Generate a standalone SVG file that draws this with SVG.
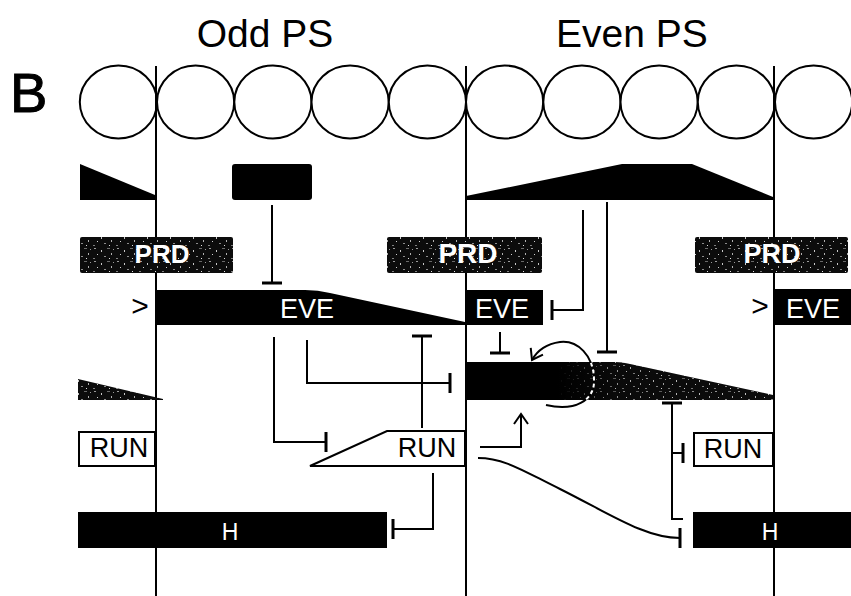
<svg xmlns="http://www.w3.org/2000/svg" width="851" height="596" viewBox="0 0 851 596">
<style>
  .ln{stroke:#000;stroke-width:2;fill:none}
  .inh{stroke:#000;stroke-width:2;fill:none;marker-end:url(#tee)}
  .circ{fill:#fff;stroke:#000;stroke-width:2}
  .wt{font-family:"Liberation Sans",Arial,sans-serif;fill:#fff;text-anchor:middle}
  .bt{font-family:"Liberation Sans",Arial,sans-serif;fill:#000;text-anchor:middle}
  .box{fill:#fff;stroke:#000;stroke-width:2}
</style>
<defs>
  <pattern id="speck" width="23" height="13" patternUnits="userSpaceOnUse">
    <rect width="23" height="13" fill="#0c0c0c"/>
    <rect x="2" y="1" width="2" height="1" fill="#9a9a9a"/>
    <rect x="9" y="3" width="1" height="2" fill="#c8c8c8"/>
    <rect x="15" y="1" width="3" height="1" fill="#6a6a6a"/>
    <rect x="5" y="7" width="1" height="1" fill="#d0d0d0"/>
    <rect x="12" y="9" width="2" height="1" fill="#8c8c8c"/>
    <rect x="19" y="6" width="1" height="2" fill="#b0b0b0"/>
    <rect x="1" y="11" width="2" height="1" fill="#808080"/>
    <rect x="17" y="11" width="1" height="1" fill="#e0e0e0"/>
    <rect x="21" y="2" width="1" height="1" fill="#999"/>
  </pattern>
  <linearGradient id="fadeBlack" gradientUnits="userSpaceOnUse" x1="465" y1="0" x2="773" y2="0">
    <stop offset="0" stop-color="#000" stop-opacity="1"/>
    <stop offset="0.3" stop-color="#000" stop-opacity="1"/>
    <stop offset="0.5" stop-color="#000" stop-opacity="0.15"/>
    <stop offset="1" stop-color="#000" stop-opacity="0"/>
  </linearGradient>
  <clipPath id="barClip">
    <path d="M465,362 H615 Q622,362 630,364 L773,395 V400 H465 Z"/>
  </clipPath>
  <marker id="tee" viewBox="-2 -11 4 22" markerWidth="4" markerHeight="22" refX="0" refY="0" orient="auto" markerUnits="userSpaceOnUse">
    <path d="M0,-10 L0,10" stroke="#000" stroke-width="3"/>
  </marker>
  <marker id="arr" viewBox="-12 -8 14 16" markerWidth="14" markerHeight="16" refX="0" refY="0" orient="auto" markerUnits="userSpaceOnUse">
    <path d="M-10,-7 L0,0 L-10,7" stroke="#000" stroke-width="2" fill="none"/>
  </marker>
</defs>

<rect width="851" height="596" fill="#fff"/>

<g id="labels">
  <text x="10" y="112" font-family="Liberation Sans, Arial, sans-serif" font-size="56" stroke="#000" stroke-width="1">B</text>
  <text class="bt" x="265" y="47" font-size="39">Odd PS</text>
  <text class="bt" x="632" y="47" font-size="39">Even PS</text>
</g>

<g id="segments">
  <line class="ln" x1="156" y1="66" x2="156" y2="596"/>
  <line class="ln" x1="466" y1="66" x2="466" y2="596"/>
  <line class="ln" x1="774" y1="66" x2="774" y2="596"/>
</g>

<g id="cells">
  <ellipse class="circ" cx="118.4" cy="102" rx="38.6" ry="36.5"/>
  <ellipse class="circ" cx="195.6" cy="102" rx="38.6" ry="36.5"/>
  <ellipse class="circ" cx="272.9" cy="102" rx="38.6" ry="36.5"/>
  <ellipse class="circ" cx="350.1" cy="102" rx="38.6" ry="36.5"/>
  <ellipse class="circ" cx="427.4" cy="102" rx="38.6" ry="36.5"/>
  <ellipse class="circ" cx="504.6" cy="102" rx="38.6" ry="36.5"/>
  <ellipse class="circ" cx="581.9" cy="102" rx="38.6" ry="36.5"/>
  <ellipse class="circ" cx="659.1" cy="102" rx="38.6" ry="36.5"/>
  <ellipse class="circ" cx="736.4" cy="102" rx="38.6" ry="36.5"/>
  <ellipse class="circ" cx="813.6" cy="102" rx="38.6" ry="36.5"/>
  <line class="ln" x1="156" y1="66" x2="156" y2="140"/>
  <line class="ln" x1="466" y1="66" x2="466" y2="140"/>
  <line class="ln" x1="774" y1="66" x2="774" y2="140"/>
</g>

<g id="pair-rule-odd-left">
  <path d="M80,164 L155,195 V200 H80 Z" fill="#000"/>
</g>
<g id="repressor-box">
  <rect x="232" y="164" width="80" height="36" rx="3" fill="#000"/>
</g>
<g id="pair-rule-even">
  <path d="M466,196 L622,164 H692 L773,197 V200 H466 Z" fill="#000"/>
</g>

<g id="prd-1">
  <rect x="80" y="237" width="153" height="36" rx="2" fill="url(#speck)"/>
  <text class="wt" x="162" y="263" font-size="26" font-weight="bold">PRD</text>
</g>
<g id="prd-2">
  <rect x="387" y="237" width="155" height="36" rx="2" fill="url(#speck)"/>
  <text class="wt" x="468" y="263" font-size="28" font-weight="bold">PRD</text>
</g>
<g id="prd-3">
  <rect x="695" y="237" width="153" height="36" rx="2" fill="url(#speck)"/>
  <text class="wt" x="772" y="263" font-size="27" font-weight="bold">PRD</text>
</g>

<g id="eve-1">
  <text class="bt" x="140" y="316" font-size="30">&gt;</text>
  <path d="M155,290 H305 Q318,290 330,293 L465,322 V325 H155 Z" fill="#000"/>
  <text class="wt" x="307" y="318" font-size="27">EVE</text>
</g>
<g id="eve-2">
  <rect x="466" y="290" width="77" height="35" fill="#000"/>
  <text class="wt" x="502" y="318" font-size="27">EVE</text>
</g>
<g id="eve-3">
  <text class="bt" x="760" y="316" font-size="30">&gt;</text>
  <rect x="774" y="289" width="77" height="36" fill="#000"/>
  <text class="wt" x="813" y="318" font-size="27">EVE</text>
</g>

<g id="odd-left">
  <path d="M78,379 L163,399 V400 H78 Z" fill="url(#speck)"/>
</g>
<g id="odd-even-bar">
  <path d="M465,362 H615 Q622,362 630,364 L773,395 V400 H465 Z" fill="url(#speck)"/>
  <path d="M465,362 H615 Q622,362 630,364 L773,395 V400 H465 Z" fill="url(#fadeBlack)"/>
</g>

<g id="run-1">
  <rect class="box" x="79" y="432" width="76" height="34"/>
  <text class="bt" x="119" y="457" font-size="27">RUN</text>
</g>
<g id="run-2">
  <path class="box" d="M310,466 L387,431 H465 V466 Z"/>
  <text class="bt" x="427" y="457" font-size="27">RUN</text>
</g>
<g id="run-3">
  <rect class="box" x="694" y="433" width="79" height="33"/>
  <text class="bt" x="733" y="458" font-size="27">RUN</text>
</g>

<g id="h-1">
  <rect x="78" y="512" width="309" height="36" fill="#000"/>
  <text class="wt" x="230" y="540" font-size="23">H</text>
</g>
<g id="h-2">
  <rect x="693" y="512" width="158" height="36" fill="#000"/>
  <text class="wt" x="770" y="540" font-size="23">H</text>
</g>

<g id="connectors">
  <path class="inh" d="M272,205 V283"/>
  <path class="inh" d="M607,202 V352"/>
  <path class="inh" d="M583,210 V310 H552"/>
  <path class="inh" d="M500,332 V353"/>
  <path class="inh" d="M274,337 V442 H326"/>
  <path class="inh" d="M307,340 V383 H450"/>
  <path class="inh" d="M422,428 V336"/>
  <path class="inh" d="M433,473 V529 H393"/>
  <path class="ln" d="M480,447 H521 V414" marker-end="url(#arr)"/>
  <path class="inh" d="M478,458 C505,458 525,472 560,489 C610,514 645,538 680,538"/>
  <path class="inh" d="M683,519 H672 V403"/>
  <path class="inh" d="M672,453 H683"/>
  <path id="loop" class="ln" d="M546,405 C575,412 595,400 594,380 C594,355 577,340 560,342 C546,344 537,351 532,360" marker-end="url(#arr)"/>
  <path d="M546,405 C575,412 595,400 594,380 C594,355 577,340 560,342 C546,344 537,351 532,360" fill="none" stroke="#fff" stroke-width="2" stroke-dasharray="4 3" clip-path="url(#barClip)"/>
</g>
</svg>
